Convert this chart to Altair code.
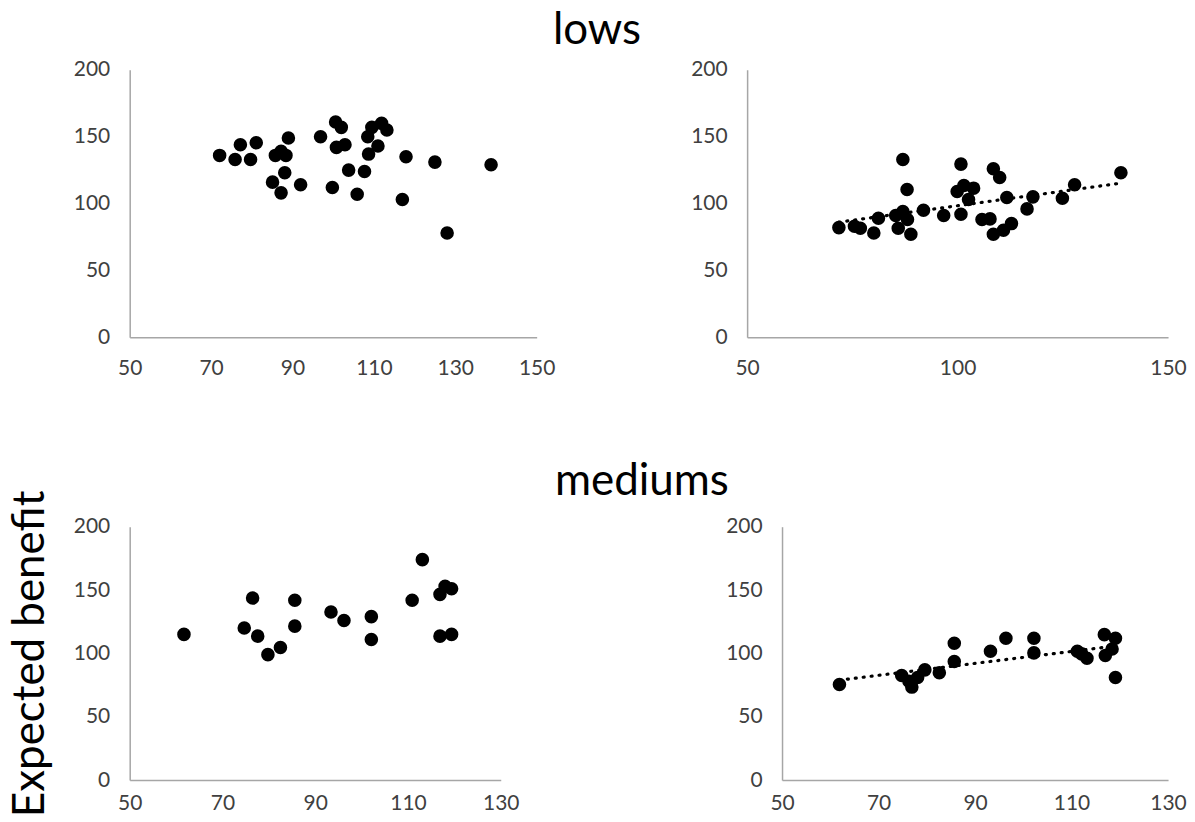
import altair as alt
import pandas as pd

# ---- data ----
lows_left_x = [72.1, 75.9, 77.2, 79.7, 81.1, 85.1, 85.8, 87.2, 88.4, 88.1, 87.2, 89.0, 92.0,
               96.9, 99.8, 100.6, 102.0, 100.8, 102.9, 103.8, 105.9, 107.7, 108.7, 108.5,
               109.5, 111.0, 111.9, 113.2, 117.0, 117.9, 125.0, 128.0, 138.8]
lows_left_y = [136, 133, 144, 133, 145.5, 116, 136, 139, 136, 123, 108, 149, 114,
               150, 112, 161, 157, 142, 144, 125, 107, 124, 137, 150,
               157, 143, 160, 155, 103, 135, 131, 78, 129]

lows_right_x = [71.8, 75.5, 76.9, 80.1, 81.2, 85.3, 85.9, 87.0, 87.0, 88.0, 88.1, 88.9, 91.9,
                96.7, 100.8, 100.8, 99.9, 101.5, 102.6, 103.8, 105.8, 107.7, 108.5, 110.0,
                108.5, 110.9, 112.8, 111.7, 116.5, 117.9, 124.9, 127.8, 138.8]
lows_right_y = [82, 83, 81.5, 78, 89, 91, 81.5, 94, 133, 110.5, 88, 77, 95,
                91, 92, 129.5, 109, 113.5, 103, 111.5, 88, 88.5, 126, 119.5,
                77, 80, 85, 104.5, 96, 105, 104, 114, 123]

med_left_x = [61.7, 74.7, 76.5, 77.6, 79.8, 82.5, 85.6, 85.6, 93.4, 96.2, 102.1, 102.1,
              110.9, 113.1, 116.9, 118.0, 119.4, 116.9, 119.4]
med_left_y = [115, 120, 143.7, 113.6, 99, 104.7, 142, 121.5, 132.7, 126, 129, 111,
              142, 174, 146.6, 153, 151, 113.6, 115]

med_right_x = [61.9, 74.8, 76.3, 76.9, 78.1, 79.6, 82.6, 85.7, 85.7, 93.2, 96.4, 102.2,
               102.2, 111.2, 112.1, 113.2, 116.8, 117.0, 118.4, 119.1, 119.1]
med_right_y = [75.5, 82.6, 78, 73.4, 81, 87, 84.7, 108, 93.6, 101.7, 112, 112,
               100.4, 101.7, 99.6, 96.2, 114.8, 98.3, 103.5, 112, 81]

y_ticks = [0, 50, 100, 150, 200]
x_ticks_lows_left = [50, 70, 90, 110, 130, 150]
x_ticks_lows_right = [50, 100, 150]
x_ticks_med = [50, 70, 90, 110, 130]

FONT = "Lato"


def panel(xs, ys, xmax, xticks, w, h, x0, x1, xpad, trend=False, ytitle=None, title=None):
    df = pd.DataFrame({"x": xs, "y": ys})
    base = alt.Chart(df)
    xscale = alt.Scale(domain=[50, xmax], nice=False, zero=False, range=[x0, x1])
    xenc = alt.X("x:Q", scale=xscale,
                 axis=alt.Axis(values=xticks, labelPadding=xpad, labelFlush=False,
                               labelOverlap=False), title=None)
    if ytitle:
        yaxis = alt.Axis(values=y_ticks, title=ytitle, titleFont=FONT, titleFontSize=44,
                         titleFontWeight="normal", titleColor="black", titlePadding=21,
                         labelFlush=False, labelOverlap=False)
    else:
        yaxis = alt.Axis(values=y_ticks, title=None, offset=-x0,
                         labelFlush=False, labelOverlap=False)
    yenc = alt.Y("y:Q", scale=alt.Scale(domain=[0, 200], nice=False), axis=yaxis)
    pts = base.mark_circle(size=185, color="black", opacity=1).encode(x=xenc, y=yenc)
    layers = []
    if trend:
        line = base.transform_regression("x", "y").mark_line(
            strokeDash=[1, 7], strokeCap="round", strokeWidth=3.2, color="black"
        ).encode(x="x:Q", y="y:Q")
        layers.append(line)
    layers.append(pts)
    ch = alt.layer(*layers).properties(width=w, height=h)
    if title is not None:
        ch = ch.properties(title=title)
    return ch


p1 = panel(lows_left_x, lows_left_y, 150, x_ticks_lows_left, 443, 268, 0, 408, 20,
           title=alt.TitleParams("lows", offset=6, dx=247, anchor="middle", frame="group"))
p2 = panel(lows_right_x, lows_right_y, 150, x_ticks_lows_right, 422, 268, 0, 422, 20,
           trend=True)
p3 = panel(med_left_x, med_left_y, 130, x_ticks_med, 443, 254, 0, 372, 13,
           ytitle="Expected benefit",
           title=alt.TitleParams("mediums", offset=0, dy=14, dx=292, anchor="middle",
                                 frame="group"))
p4 = panel(med_right_x, med_right_y, 130, x_ticks_med, 422, 254, 35, 422, 13, trend=True)

chart = alt.concat(p1, p2, p3, p4, columns=2, bounds="flush",
                   spacing={"row": 190, "column": 176}).configure_view(
    stroke=None
).configure_axis(
    domainColor="#a6a6a6", domainWidth=1.5, ticks=False, tickSize=0, grid=False,
    labelFont=FONT, labelFontSize=21, labelColor="#404040"
).configure_axisY(labelPadding=20).configure_title(
    font=FONT, fontSize=44, fontWeight="normal", color="black"
).properties(padding={"left": 0, "top": 0, "right": 0, "bottom": 0})

chart.save("out.html", embed_options={"renderer": "svg", "actions": False})
